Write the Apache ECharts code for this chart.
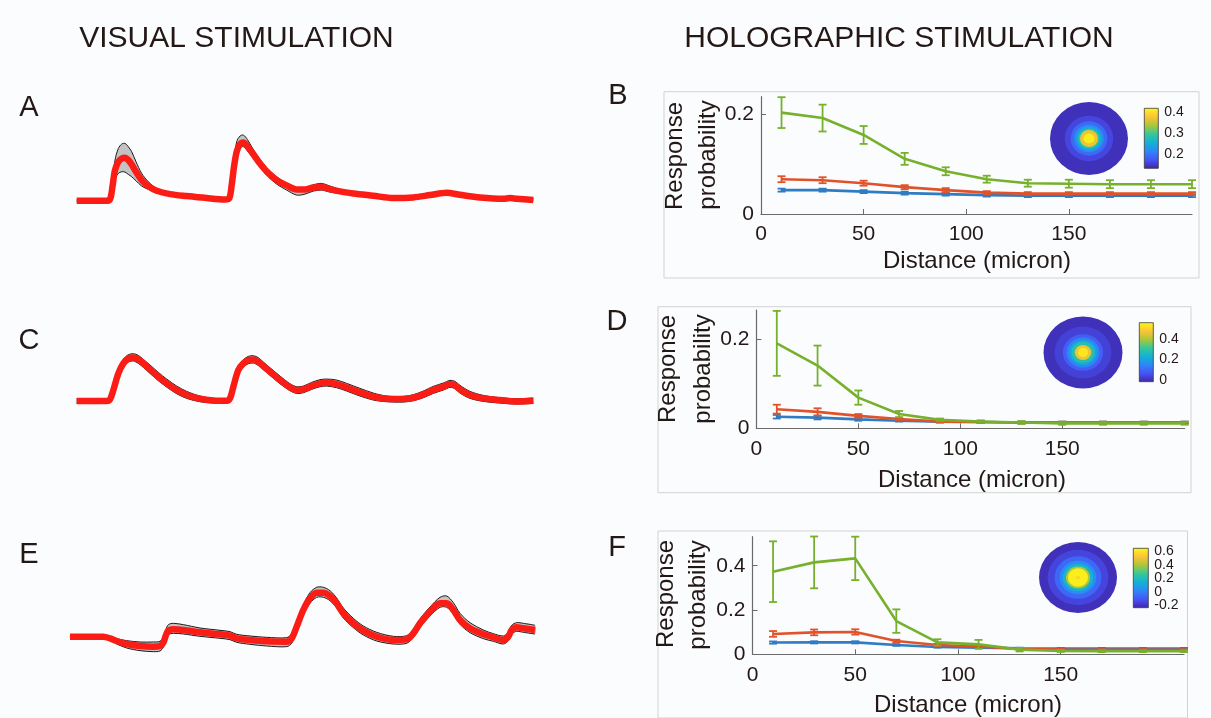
<!DOCTYPE html>
<html><head><meta charset="utf-8">
<script src="https://cdn.jsdelivr.net/npm/echarts@6/dist/echarts.min.js"></script>
<style>html,body{margin:0;padding:0;background:#fbfcfe}#c{width:1211px;height:718px}</style>
</head><body><div id="c"></div><script>
// ---------- DATA ----------
// Visual stimulation traces (time in s, response in dF/F units)
const timeA  = [0.5,1.45,1.52,1.58,1.65,1.75,1.85,1.95,2.05,2.15,2.28,2.45,2.65,2.9,3.3,3.8,4.4,4.95,5.08,5.15,5.22,5.3,5.4,5.5,5.62,5.78,5.98,6.22,6.5,6.8,7.1,7.35,7.6,7.85,8.1,8.4,8.8,9.4,10.0,10.6,11.1,11.6,12.0,12.6,13.3,13.5,13.7,14.2];
const meanA  = [0,0,0.10,0.47,0.92,1.17,1.27,1.29,1.22,1.09,0.87,0.62,0.44,0.30,0.20,0.14,0.08,0.04,0.08,0.47,1.02,1.47,1.70,1.75,1.64,1.42,1.14,0.86,0.62,0.46,0.34,0.34,0.40,0.41,0.35,0.28,0.22,0.15,0.08,0.10,0.17,0.24,0.18,0.10,0.06,0.08,0.06,0.02];
const upperA = [0.03,0.03,0.14,0.57,1.22,1.57,1.70,1.72,1.62,1.47,1.17,0.82,0.57,0.37,0.24,0.17,0.11,0.07,0.12,0.62,1.22,1.77,1.94,1.97,1.84,1.57,1.27,0.97,0.72,0.52,0.36,0.38,0.48,0.52,0.44,0.34,0.27,0.19,0.11,0.13,0.20,0.27,0.21,0.13,0.09,0.14,0.11,0.07];
const lowerA = [-0.03,-0.03,0.06,0.40,0.67,0.82,0.87,0.86,0.79,0.72,0.60,0.44,0.34,0.24,0.16,0.11,0.05,0.01,0.04,0.32,0.82,1.32,1.60,1.62,1.50,1.29,1.04,0.75,0.50,0.32,0.17,0.20,0.29,0.32,0.26,0.22,0.18,0.11,0.05,0.07,0.14,0.21,0.15,0.07,0.03,0.04,0.02,-0.01];

const timeC  = [0.5,1.4,1.5,1.6,1.75,1.9,2.05,2.2,2.35,2.5,2.7,2.95,3.2,3.5,3.8,4.2,4.6,5.0,5.1,5.2,5.35,5.5,5.65,5.8,5.95,6.1,6.3,6.6,6.9,7.1,7.3,7.55,7.8,8.0,8.3,8.6,9.0,9.4,9.8,10.3,10.6,10.9,11.2,11.5,11.7,11.85,12.0,12.3,12.7,13.2,13.7,14.2];
const meanC  = [0,0,0.05,0.33,0.83,1.13,1.28,1.31,1.25,1.13,0.95,0.73,0.53,0.33,0.18,0.07,0.02,0.01,0.08,0.43,0.93,1.13,1.23,1.25,1.18,1.05,0.88,0.63,0.41,0.33,0.35,0.45,0.53,0.55,0.51,0.41,0.26,0.13,0.07,0.06,0.10,0.20,0.33,0.43,0.51,0.47,0.35,0.18,0.08,0.03,-0.01,0.01];
const upperC = [0.07,0.07,0.12,0.42,0.95,1.25,1.39,1.42,1.37,1.25,1.08,0.86,0.66,0.45,0.29,0.15,0.08,0.07,0.15,0.53,1.04,1.24,1.34,1.36,1.30,1.17,1.00,0.75,0.52,0.43,0.45,0.56,0.64,0.66,0.63,0.53,0.38,0.24,0.15,0.14,0.19,0.30,0.44,0.54,0.62,0.59,0.47,0.29,0.17,0.10,0.07,0.09];
const lowerC = [-0.07,-0.07,-0.03,0.24,0.72,1.02,1.17,1.20,1.13,1.01,0.83,0.61,0.42,0.22,0.08,-0.02,-0.06,-0.07,0.0,0.33,0.82,1.02,1.12,1.14,1.07,0.94,0.77,0.52,0.31,0.23,0.25,0.35,0.43,0.45,0.40,0.30,0.15,0.03,-0.02,-0.03,0.01,0.10,0.23,0.33,0.41,0.37,0.24,0.08,-0.01,-0.06,-0.09,-0.07];

const timeE  = [0.3,1.3,1.5,1.7,2.0,2.4,2.8,3.0,3.1,3.18,3.25,3.4,3.7,4.2,4.8,5.1,5.3,5.7,6.2,6.8,6.95,7.1,7.3,7.5,7.7,7.9,8.1,8.3,8.5,8.8,9.1,9.5,10.0,10.4,10.6,10.8,11.1,11.4,11.6,11.8,12.0,12.3,12.7,13.0,13.3,13.45,13.55,13.7,13.9,14.25];
const meanE  = [0,0,-0.05,-0.13,-0.22,-0.28,-0.30,-0.28,-0.18,0.05,0.18,0.22,0.20,0.13,0.07,0.03,-0.05,-0.10,-0.14,-0.15,-0.05,0.30,0.80,1.15,1.32,1.32,1.22,1.00,0.70,0.40,0.18,0,-0.10,-0.08,0.10,0.40,0.75,1.00,1.00,0.80,0.50,0.25,0.07,-0.02,-0.10,0,0.20,0.28,0.25,0.20];
const upperE = [0.04,0.04,0.0,-0.06,-0.12,-0.16,-0.16,-0.14,-0.02,0.22,0.36,0.40,0.36,0.26,0.19,0.15,0.07,0.02,-0.02,-0.03,0.09,0.45,0.96,1.32,1.48,1.48,1.38,1.16,0.86,0.55,0.32,0.13,0.01,0.03,0.22,0.53,0.89,1.18,1.22,1.02,0.70,0.42,0.20,0.09,0.02,0.13,0.34,0.42,0.40,0.34];
const lowerE = [-0.04,-0.04,-0.11,-0.22,-0.34,-0.42,-0.45,-0.43,-0.32,-0.08,0.06,0.10,0.08,0.01,-0.05,-0.09,-0.17,-0.23,-0.28,-0.30,-0.20,0.16,0.66,1.00,1.18,1.18,1.08,0.86,0.56,0.27,0.05,-0.13,-0.22,-0.20,-0.03,0.27,0.62,0.88,0.88,0.68,0.37,0.12,-0.06,-0.14,-0.22,-0.12,0.08,0.16,0.13,0.08];

// Holographic stimulation: response probability vs distance (micron)
const distance = [10,30,50,70,90,110,130,150,170,190,210];
const greenB = [0.204,0.193,0.159,0.111,0.086,0.070,0.062,0.061,0.060,0.060,0.060];
const greenBErr = [0.031,0.027,0.018,0.012,0.008,0.007,0.007,0.008,0.008,0.008,0.008];
const redB = [0.070,0.068,0.062,0.054,0.048,0.043,0.041,0.041,0.041,0.041,0.041];
const redBErr = [0.006,0.006,0.005,0.004,0.004,0.003,0.003,0.003,0.003,0.003,0.003];
const blueB = [0.048,0.048,0.045,0.042,0.040,0.038,0.037,0.037,0.037,0.037,0.037];
const blueBErr = [0.003,0.003,0.003,0.003,0.003,0.003,0.003,0.003,0.003,0.003,0.003];

const greenD = [0.191,0.141,0.069,0.032,0.019,0.015,0.013,0.011,0.011,0.011,0.011];
const greenDErr = [0.073,0.045,0.016,0.007,0.003,0.003,0.003,0.003,0.003,0.003,0.003];
const redD = [0.043,0.037,0.028,0.021,0.015,0.014,0.013,0.013,0.013,0.013,0.013];
const redDErr = [0.010,0.008,0.004,0.003,0.002,0.002,0.002,0.002,0.002,0.002,0.002];
const blueD = [0.026,0.024,0.020,0.017,0.015,0.014,0.013,0.013,0.013,0.013,0.013];
const blueDErr = [0.004,0.004,0.003,0.002,0.002,0.002,0.002,0.002,0.002,0.002,0.002];

const greenF = [0.373,0.415,0.433,0.150,0.054,0.045,0.021,0.015,0.014,0.014,0.014];
const greenFErr = [0.137,0.117,0.098,0.053,0.014,0.020,0.008,0.004,0.004,0.004,0.004];
const redF = [0.092,0.099,0.101,0.060,0.042,0.035,0.024,0.021,0.020,0.020,0.020];
const redFErr = [0.013,0.013,0.012,0.006,0.005,0.004,0.003,0.003,0.003,0.003,0.003];
const blueF = [0.053,0.054,0.054,0.042,0.033,0.030,0.027,0.026,0.026,0.026,0.026];
const blueFErr = [0.005,0.005,0.005,0.004,0.003,0.003,0.003,0.003,0.003,0.003,0.003];

const xTicks = [0,50,100,150];
const yTicksB = [0,0.2];
const yTicksD = [0,0.2];
const yTicksF = [0,0.2,0.4];

// Inset maps: concentric ring radius (fraction) and value, colorbar range and ticks
const ringRadiusB = [1,0.62,0.47,0.38,0.32,0.27,0.23,0.14];
const ringValueB  = [0.14,0.16,0.19,0.22,0.25,0.29,0.37,0.41];
const cbarRangeB = [0.13,0.42];
const cbarTicksB = [0.2,0.3,0.4];
const ringRadiusD = [1,0.72,0.51,0.42,0.35,0.29,0.21,0.13];
const ringValueD  = [0.0,0.03,0.08,0.14,0.21,0.28,0.46,0.53];
const cbarRangeD = [-0.02,0.56];
const cbarTicksD = [0,0.2,0.4];
const ringRadiusF = [1,0.78,0.6,0.47,0.39,0.31,0.26,0.05];
const ringValueF  = [-0.21,-0.15,-0.06,0.03,0.16,0.40,0.62,0.56];
const cbarRangeF = [-0.24,0.65];
const cbarTicksF = [-0.2,0,0.2,0.4,0.6];

// ---------- STYLE / LAYOUT ----------
const FONT = '"Liberation Sans", Arial, Helvetica, sans-serif';
const INK = '#231815';
const parula = ['#3E26A8','#4852F4','#2E87F7','#12B1D6','#37C897','#ABC739','#FEC338','#F9FB14'];
const GREEN = '#76b02c', RED = '#e0532a', BLUE = '#2f7cc4';

const chart = echarts.init(document.getElementById('c'), null, {renderer:'canvas'});

const grids = [
  {left:76.7, top:117.4, width:456.6, height:116.7},   // 0 A
  {left:76.7, top:317.7, width:456.6, height:116.7},   // 1 C
  {left:70,   top:553.3, width:465,   height:116.7},   // 2 E
  {left:761,  top:96.7,  width:431,   height:117.3},   // 3 B
  {left:756.4,top:310,   width:428.2, height:118.3},   // 4 D
  {left:752.5,top:536.7, width:431.5, height:117.6},   // 5 F
  {left:1050, top:102,   width:78,    height:73},      // 6 B map
  {left:1043.5,top:316.5,width:79,    height:72},      // 7 D map
  {left:1039, top:542,   width:78,    height:71},      // 8 F map
  {left:1144.3,top:108.3,width:14,    height:60},      // 9 B cbar
  {left:1139.3,top:322.7,width:14,    height:59},      // 10 D cbar
  {left:1133.3,top:548.3,width:15,    height:59.4}     // 11 F cbar
].map(g => Object.assign({outerBoundsMode:'none', containLabel:false}, g));

const xAxes = [], yAxes = [];
[[0.5,14.2],[0.5,14.2],[0.3,14.25]].forEach((r,i)=>{
  xAxes.push({gridIndex:i, type:'value', min:r[0], max:r[1], show:false});
  yAxes.push({gridIndex:i, type:'value', min:-1, max:2.5, show:false});
});
const plotAx = (gi, ymax, yt) => {
  xAxes.push({gridIndex:gi, type:'value', min:0, max:210,
    axisLine:{show:true, lineStyle:{color:'#6a6a6a', width:1.2}},
    axisTick:{show:true, inside:true, length:5, customValues:xTicks, lineStyle:{color:'#6a6a6a'}},
    axisLabel:{customValues:xTicks, fontSize:21, color:INK, fontFamily:FONT, margin:10},
    splitLine:{show:false}});
  yAxes.push({gridIndex:gi, type:'value', min:0, max:ymax,
    axisLine:{show:true, lineStyle:{color:'#6a6a6a', width:1.2}},
    axisTick:{show:true, inside:true, length:5, customValues:yt, lineStyle:{color:'#6a6a6a'}},
    axisLabel:{customValues:yt, fontSize:21, color:INK, fontFamily:FONT, margin:7},
    splitLine:{show:false}});
};
plotAx(3, 0.236, yTicksB);
plotAx(4, 0.266, yTicksD);
plotAx(5, 0.531, yTicksF);
[6,7,8].forEach(gi=>{
  xAxes.push({gridIndex:gi, type:'value', min:-1, max:1, show:false});
  yAxes.push({gridIndex:gi, type:'value', min:-1, max:1, show:false});
});
// colorbar axes: alternate ticks go on two overlaid right-hand axes so none is dropped as overlapping
const cbarAxis = (gi, rg, tk) => ({gridIndex:gi, type:'value', min:rg[0], max:rg[1], position:'right', offset:0,
  axisLine:{show:false}, axisTick:{show:false}, splitLine:{show:false},
  axisLabel:{customValues:tk, showMinLabel:true, showMaxLabel:true, fontSize:14,
    color:INK, fontFamily:FONT, margin:6}});
const cbars = [[9,cbarRangeB,cbarTicksB],[10,cbarRangeD,cbarTicksD],[11,cbarRangeF,cbarTicksF]];
cbars.forEach(([gi,rg,tk])=>{
  xAxes.push({gridIndex:gi, type:'value', min:-1, max:1, show:false});
  yAxes.push(cbarAxis(gi, rg, tk.filter((v,i)=>i%2===0)));
});
cbars.forEach(([gi,rg,tk])=>{
  yAxes.push(cbarAxis(gi, rg, tk.filter((v,i)=>i%2===1)));
});

const series = [];
function bandRender(n){
  return function(params, api){
    if (params.dataIndexInside !== 0) return;
    const up = [], lo = [];
    for (let i = 0; i < n; i++) {
      const x = api.value(0, i);
      lo.push(api.coord([x, api.value(1, i)]));
      up.push(api.coord([x, api.value(2, i)]));
    }
    const poly = up.concat(lo.slice().reverse());
    return {type:'group', children:[
      {type:'polygon', shape:{points:poly, smooth:0.3}, style:{fill:'#c3c3c3', stroke:null}},
      {type:'polyline', shape:{points:up, smooth:0.3}, style:{stroke:'#1a1a1a', lineWidth:1, fill:null}},
      {type:'polyline', shape:{points:lo, smooth:0.3}, style:{stroke:'#1a1a1a', lineWidth:1, fill:null}}]};
  };
}
function addTrace(gi, t, mean, up, lo){
  series.push({type:'custom', xAxisIndex:gi, yAxisIndex:gi, renderItem:bandRender(t.length),
    data:t.map((x,i)=>[x, lo[i], up[i]]), z:2, silent:true, clip:false});
  series.push({type:'line', xAxisIndex:gi, yAxisIndex:gi, symbol:'none', smooth:0.3,
    data:t.map((x,i)=>[x, mean[i]]), lineStyle:{color:'#fb1d15', width:6.5, join:'round'}, z:3, silent:true});
}
addTrace(0, timeA, meanA, upperA, lowerA);
addTrace(1, timeC, meanC, upperC, lowerC);
addTrace(2, timeE, meanE, upperE, lowerE);

function errRender(color){
  return function(params, api){
    const x = api.value(0), y = api.value(1), e = api.value(2);
    const a = api.coord([x, y+e]), b = api.coord([x, y-e]);
    const hw = 4, st = {stroke:color, lineWidth:1.8};
    return {type:'group', children:[
      {type:'line', shape:{x1:a[0],y1:a[1],x2:b[0],y2:b[1]}, style:st},
      {type:'line', shape:{x1:a[0]-hw,y1:a[1],x2:a[0]+hw,y2:a[1]}, style:st},
      {type:'line', shape:{x1:b[0]-hw,y1:b[1],x2:b[0]+hw,y2:b[1]}, style:st}]};
  };
}
function addCurve(gi, vals, errs, color, z){
  series.push({type:'line', xAxisIndex:gi, yAxisIndex:gi, symbol:'none',
    data:distance.map((d,i)=>[d, vals[i]]), lineStyle:{color:color, width:2.6}, z:z, silent:true});
  series.push({type:'custom', xAxisIndex:gi, yAxisIndex:gi, renderItem:errRender(color),
    data:distance.map((d,i)=>[d, vals[i], errs[i]]), z:z, silent:true});
}
addCurve(3, blueB, blueBErr, BLUE, 3); addCurve(3, redB, redBErr, RED, 4); addCurve(3, greenB, greenBErr, GREEN, 5);
addCurve(4, blueD, blueDErr, BLUE, 3); addCurve(4, redD, redDErr, RED, 4); addCurve(4, greenD, greenDErr, GREEN, 5);
addCurve(5, blueF, blueFErr, BLUE, 3); addCurve(5, redF, redFErr, RED, 4); addCurve(5, greenF, greenFErr, GREEN, 5);

function ringRender(params, api){
  const r = api.value(0);
  const c = api.coord([0,0]);
  const s = api.size([r, r]);
  return {type:'circle', x:c[0], y:c[1], scaleX:s[0]/s[1], shape:{cx:0, cy:0, r:s[1]},
    style:{fill:api.visual('color')}};
}
const visualMaps = [];
[[6,ringRadiusB,ringValueB,cbarRangeB],[7,ringRadiusD,ringValueD,cbarRangeD],[8,ringRadiusF,ringValueF,cbarRangeF]].forEach(([gi,rr,vv,rg])=>{
  visualMaps.push({type:'continuous', show:false, seriesIndex:series.length, dimension:1,
    min:rg[0], max:rg[1], inRange:{color:parula}});
  series.push({type:'custom', xAxisIndex:gi, yAxisIndex:gi, renderItem:ringRender,
    data:rr.map((r,i)=>[r, vv[i]]), silent:true, z:2});
});

const stops = parula.map((c,i)=>({offset:i/(parula.length-1), color:c}));
function cbarRender(params, api){
  const lo = api.value(0), hi = api.value(1);
  const p = api.coord([-1, hi]), q = api.coord([1, lo]);
  return {type:'rect', shape:{x:p[0], y:p[1], width:q[0]-p[0], height:q[1]-p[1]},
    style:{fill:new echarts.graphic.LinearGradient(0,1,0,0,stops), stroke:'#3a3a3a', lineWidth:0.8}};
}
cbars.forEach(([gi,rg])=>{
  series.push({type:'custom', xAxisIndex:gi, yAxisIndex:gi, renderItem:cbarRender,
    data:[[rg[0], rg[1]]], silent:true, z:2});
});

const T = (text, x, y, size, extra) => Object.assign({type:'text', x:x, y:y,
  style:{text:text, fill:INK, font:`${size}px ${FONT}`, textAlign:'center', textVerticalAlign:'middle'}, z:10}, extra||{});
const R = (x, y, w, h) => ({type:'rect', shape:{x:x, y:y, width:w, height:h},
  style:{fill:null, stroke:'#d2d2d2', lineWidth:1}, z:0, silent:true});
const graphic = [
  R(664, 91.7, 535, 186.3), R(658, 306.7, 533, 186), R(658, 531, 529.5, 187),
  T('VISUAL STIMULATION', 236.5, 39, 30),
  T('HOLOGRAPHIC STIMULATION', 899, 39, 30),
  T('A', 29, 108, 29), T('C', 29, 341, 29), T('E', 29, 555, 29),
  T('B', 618, 96, 29), T('D', 617, 322, 29), T('F', 617, 548, 29),
  T('Response', 675, 156, 24, {rotation:Math.PI/2}), T('probability', 708, 155, 24, {rotation:Math.PI/2}),
  T('Response', 668, 369, 24, {rotation:Math.PI/2}), T('probability', 703, 369, 24, {rotation:Math.PI/2}),
  T('Response', 666, 594, 24, {rotation:Math.PI/2}), T('probability', 698, 595, 24, {rotation:Math.PI/2}),
  T('Distance (micron)', 977, 261.5, 24), T('Distance (micron)', 972, 480, 24), T('Distance (micron)', 968, 705, 24)
];

chart.setOption({
  backgroundColor:'#fbfcfe',
  animation:false,
  grid:grids, xAxis:xAxes, yAxis:yAxes, visualMap:visualMaps, series:series, graphic:graphic
});
</script></body></html>
